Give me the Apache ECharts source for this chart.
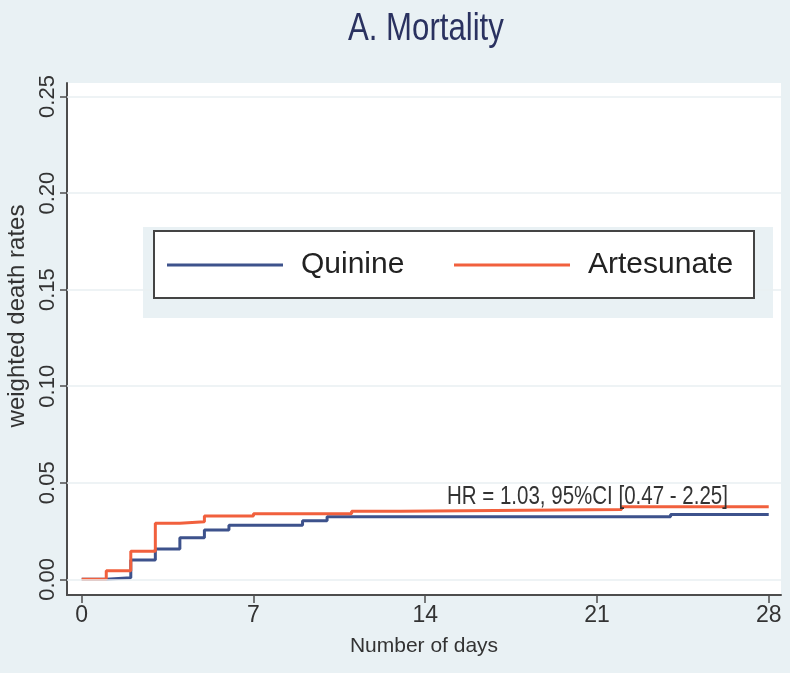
<!DOCTYPE html>
<html>
<head>
<meta charset="utf-8">
<script src="https://cdn.jsdelivr.net/npm/echarts@6/dist/echarts.min.js"></script>
<style>
html,body{margin:0;padding:0;background:#e9f1f4;}
#chart{width:790px;height:673px;}
</style>
</head>
<body>
<div id="chart"></div>
<script>
// ---- data ----
const quinineDays   = [0, 1,      2,     3,      4,      5,      6,     9,      10,     24,     28];
const quinineRates  = [0, 0.0008, 0.010, 0.0157, 0.0215, 0.0255, 0.028, 0.0303, 0.0324, 0.0336, 0.0336];
const artesDays     = [0, 1,      2,      3,     4,      5,      7,     11,     13,     22,     28];
const artesRates    = [0, 0.0045, 0.0146, 0.029, 0.0298, 0.0328, 0.034, 0.0352, 0.0362, 0.0376, 0.0376];
const xTicks = [0, 7, 14, 21, 28];
const yTicks = [0, 0.05, 0.10, 0.15, 0.20, 0.25];
const seriesNames = ['Quinine', 'Artesunate'];
const titleText = 'A. Mortality';
const hrText = 'HR = 1.03, 95%CI [0.47 - 2.25]';
const xName = 'Number of days';
const yName = 'weighted death rates';

const FONT = "'Liberation Sans', Arial, sans-serif";
const BLUE = '#3d528c';
const ORANGE = '#f1603d';
const AXIS = '#4d4d4d';
const BG = '#e9f1f4';

const chart = echarts.init(document.getElementById('chart'), null, {renderer: 'canvas'});

function zip(xs, ys) { return xs.map((x, i) => [x, ys[i]]); }

const option = {
  backgroundColor: BG,
  animation: false,
  grid: {left: 67, right: 9, top: 83, bottom: 78, show: true, backgroundColor: '#ffffff', borderWidth: 0,
         containLabel: false, outerBoundsMode: 'none'},
  xAxis: {
    type: 'value', min: -0.6, max: 28.5,
    name: xName, nameLocation: 'middle', nameGap: 41,
    nameTextStyle: {fontFamily: FONT, fontSize: 21, color: '#333'},
    axisLine: {show: true, onZero: false, lineStyle: {color: AXIS, width: 2}},
    axisTick: {show: true, customValues: xTicks, length: 8, lineStyle: {color: AXIS, width: 1.5}},
    axisLabel: {customValues: xTicks, fontFamily: FONT, fontSize: 23, color: '#333', margin: 9},
    splitLine: {show: false}
  },
  yAxis: {
    type: 'value', min: -0.0081, max: 0.257,
    name: yName, nameLocation: 'middle', nameGap: 34, nameRotate: 90,
    nameTextStyle: {fontFamily: FONT, fontSize: 24, color: '#333', padding: [0, 0, 0, 46]},
    axisLine: {show: true, onZero: false, lineStyle: {color: AXIS, width: 2}},
    axisTick: {show: true, customValues: yTicks, length: 7, lineStyle: {color: AXIS, width: 1.5}},
    axisLabel: {customValues: yTicks, rotate: 90, fontFamily: FONT, fontSize: 22, color: '#333', margin: 8,
      formatter: v => v.toFixed(2)},
    splitLine: {show: false}
  },
  legend: [
    {data: [{name: seriesNames[0], icon: 'rect'}], left: 167, top: 250, padding: 0, itemWidth: 116, itemHeight: 3, z: 20,
     textStyle: {fontFamily: FONT, fontSize: 30, color: '#222', padding: [0, 0, 0, 13]}},
    {data: [{name: seriesNames[1], icon: 'rect'}], left: 454, top: 250, padding: 0, itemWidth: 116, itemHeight: 3, z: 20,
     textStyle: {fontFamily: FONT, fontSize: 30, color: '#222', padding: [0, 0, 0, 13]}}
  ],
  graphic: [
    {type: 'rect', z: 5, shape: {x: 143, y: 227, width: 630, height: 91}, style: {fill: BG}},
    {type: 'rect', z: 6, shape: {x: 154, y: 231, width: 600, height: 67},
     style: {fill: '#ffffff', stroke: '#444', lineWidth: 2}},
    {type: 'text', z: 10, x: 348, y: 30, scaleX: 0.82,
     style: {text: titleText, font: '38px ' + FONT, fill: '#2a3260', verticalAlign: 'middle'}},
    {type: 'text', z: 10, x: 447, y: 497, scaleX: 0.82,
     style: {text: hrText, font: '25px ' + FONT, fill: '#333', verticalAlign: 'middle'}}
  ],
  series: [
    {
      name: seriesNames[0], type: 'line', step: 'end', symbol: 'none',
      data: zip(quinineDays, quinineRates),
      lineStyle: {color: BLUE, width: 3}, itemStyle: {color: BLUE}, z: 3,
      markLine: {
        silent: true, symbol: 'none', label: {show: false},
        lineStyle: {color: '#e8eff2', width: 1.5, type: 'solid'},
        data: yTicks.map(v => ({yAxis: v}))
      }
    },
    {
      name: seriesNames[1], type: 'line', step: 'end', symbol: 'none',
      data: zip(artesDays, artesRates),
      lineStyle: {color: ORANGE, width: 3}, itemStyle: {color: ORANGE}, z: 4
    }
  ]
};
chart.setOption(option);
</script>
</body>
</html>
